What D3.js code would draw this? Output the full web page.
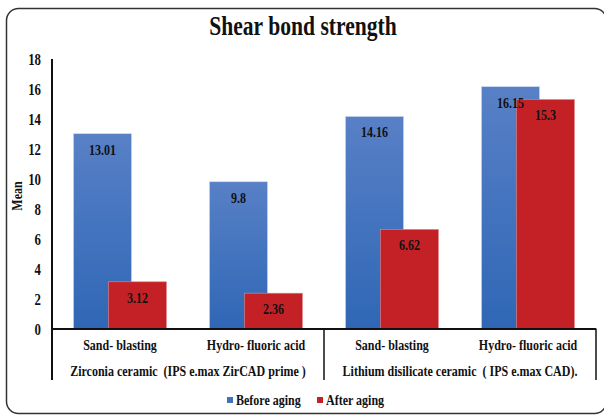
<!DOCTYPE html>
<html>
<head>
<meta charset="utf-8"/>
<title>Shear bond strength</title>
<script src="https://cdn.jsdelivr.net/npm/d3@7"></script>
<style>
html, body {
    margin: 0;
    padding: 0;
    background: #ffffff;
}
text {
    font-family: "Liberation Serif", "Times New Roman", serif;
    font-weight: bold;
    fill: #111;
    white-space: pre;
}
</style>
</head>
<body>
<svg id="chart" width="604" height="419"></svg>
<script>

// Data.
const treatments = ["Sand- blasting", "Hydro- fluoric acid", "Sand- blasting", "Hydro- fluoric acid"];
const materials = ["Zirconia ceramic  (IPS e.max ZirCAD prime )", "Lithium disilicate ceramic  ( IPS e.max CAD)."];
const seriesNames = ["Before aging", "After aging"];
const beforeAging = [13.01, 9.8, 14.16, 16.15];
const afterAging = [3.12, 2.36, 6.62, 15.3];
const yTicks = [0, 2, 4, 6, 8, 10, 12, 14, 16, 18];

const sx = 0.8;  // the source text looks squeezed sideways

const svg = d3.select("#chart");

// Gradient for the blue bars.
const defs = svg.append("defs");
const grad = defs.append("linearGradient")
    .attr("id", "blueGrad")
    .attr("x1", 0).attr("y1", 0).attr("x2", 0).attr("y2", 1);
grad.append("stop").attr("offset", "0%").attr("stop-color", "#5880c6");
grad.append("stop").attr("offset", "100%").attr("stop-color", "#2f67b6");

// Outer rounded frame.
svg.append("rect")
    .attr("x", 6.5).attr("y", 8.5)
    .attr("width", 600).attr("height", 405)
    .attr("rx", 12)
    .attr("fill", "none")
    .attr("stroke", "#333")
    .attr("stroke-width", 1.5);

function label(x, y, txt, size, anchor, scale) {
    return svg.append("text")
        .attr("transform", "translate(" + x + "," + y + ") scale(" + (scale || sx) + ",1)")
        .attr("text-anchor", anchor || "middle")
        .attr("dy", "0.35em")
        .style("font-size", size + "px")
        .text(txt);
}

// Title.
label(303, 26, "Shear bond strength", 27, "middle", 0.8);

// Scales.
const plotL = 52, plotR = 596, plotT = 59, plotB = 328.5;
const x = d3.scaleBand()
    .domain(d3.range(treatments.length))
    .range([plotL, plotR])
    .paddingInner(0.316)
    .paddingOuter(0.158);
const y = d3.scaleLinear().domain([0, 18]).range([plotB, plotT]);

const barW = x.bandwidth() * 0.624;
const xs = d3.scalePoint().domain(seriesNames).range([0, x.bandwidth() - barW]);

// Y axis (labels only, line drawn by hand).
const yAxis = svg.append("g")
    .attr("transform", "translate(" + plotL + ",0)")
    .call(d3.axisLeft(y).tickValues(yTicks).tickSize(0));
yAxis.select(".domain").remove();
yAxis.selectAll("text")
    .attr("x", null)
    .attr("dy", null)
    .attr("transform", "translate(-11,0) scale(" + sx + ",1)")
    .attr("dominant-baseline", "central")
    .style("font-size", "16px")
    .style("font-family", "Liberation Serif, Times New Roman, serif")
    .style("font-weight", "bold")
    .attr("fill", "#111");

// Y axis title.
svg.append("text")
    .attr("transform", "translate(17,196) rotate(-90) scale(" + sx + ",1)")
    .attr("text-anchor", "middle")
    .attr("dy", "0.35em")
    .style("font-size", "15px")
    .text("Mean");

// Bars.
const bars = svg.append("g");
const series = [
    {name: seriesNames[0], values: beforeAging, fill: "url(#blueGrad)", stroke: "#c9d6ee"},
    {name: seriesNames[1], values: afterAging, fill: "#c42127", stroke: "#e08a8c"}
];
series.forEach(function(s) {
    bars.selectAll(null)
        .data(s.values)
        .enter().append("rect")
        .attr("x", (d, i) => x(i) + xs(s.name))
        .attr("y", d => y(d))
        .attr("width", barW)
        .attr("height", d => y(0) - y(d))
        .attr("fill", s.fill)
        .attr("stroke", s.stroke)
        .attr("stroke-width", 0.6);
});

// Value labels.
series.forEach(function(s) {
    s.values.forEach(function(v, i) {
        label(x(i) + xs(s.name) + barW / 2, y(v) + 16, String(v), 14, "middle", 0.86);
    });
});

// Axis lines.
const axisColor = "#111";
svg.append("line")
    .attr("x1", plotL).attr("x2", plotL)
    .attr("y1", plotT).attr("y2", 380)
    .attr("stroke", axisColor).attr("stroke-width", 2);
svg.append("line")
    .attr("x1", plotL).attr("x2", plotR)
    .attr("y1", plotB + 0.5).attr("y2", plotB + 0.5)
    .attr("stroke", axisColor).attr("stroke-width", 2);
[plotL + (plotR - plotL) / 2, plotR].forEach(function(xx) {
    svg.append("line")
        .attr("x1", xx).attr("x2", xx)
        .attr("y1", plotB).attr("y2", 380)
        .attr("stroke", axisColor).attr("stroke-width", 1.5);
});

// Category labels.
treatments.forEach(function(t, i) {
    label(x(i) + x.bandwidth() / 2, 345, t, 15);
});
materials.forEach(function(m, j) {
    const x0 = x(j * 2) + x.bandwidth() / 2;
    const x1 = x(j * 2 + 1) + x.bandwidth() / 2;
    label((x0 + x1) / 2, 371, m, 15);
});

// Legend.
const legend = [
    {name: seriesNames[0], color: "#3f72bf", x: 227},
    {name: seriesNames[1], color: "#c42127", x: 317}
];
legend.forEach(function(l) {
    svg.append("rect")
        .attr("x", l.x).attr("y", 397)
        .attr("width", 6).attr("height", 6)
        .attr("fill", l.color);
    label(l.x + 9, 400, l.name, 15, "start");
});

</script>
</body>
</html>
